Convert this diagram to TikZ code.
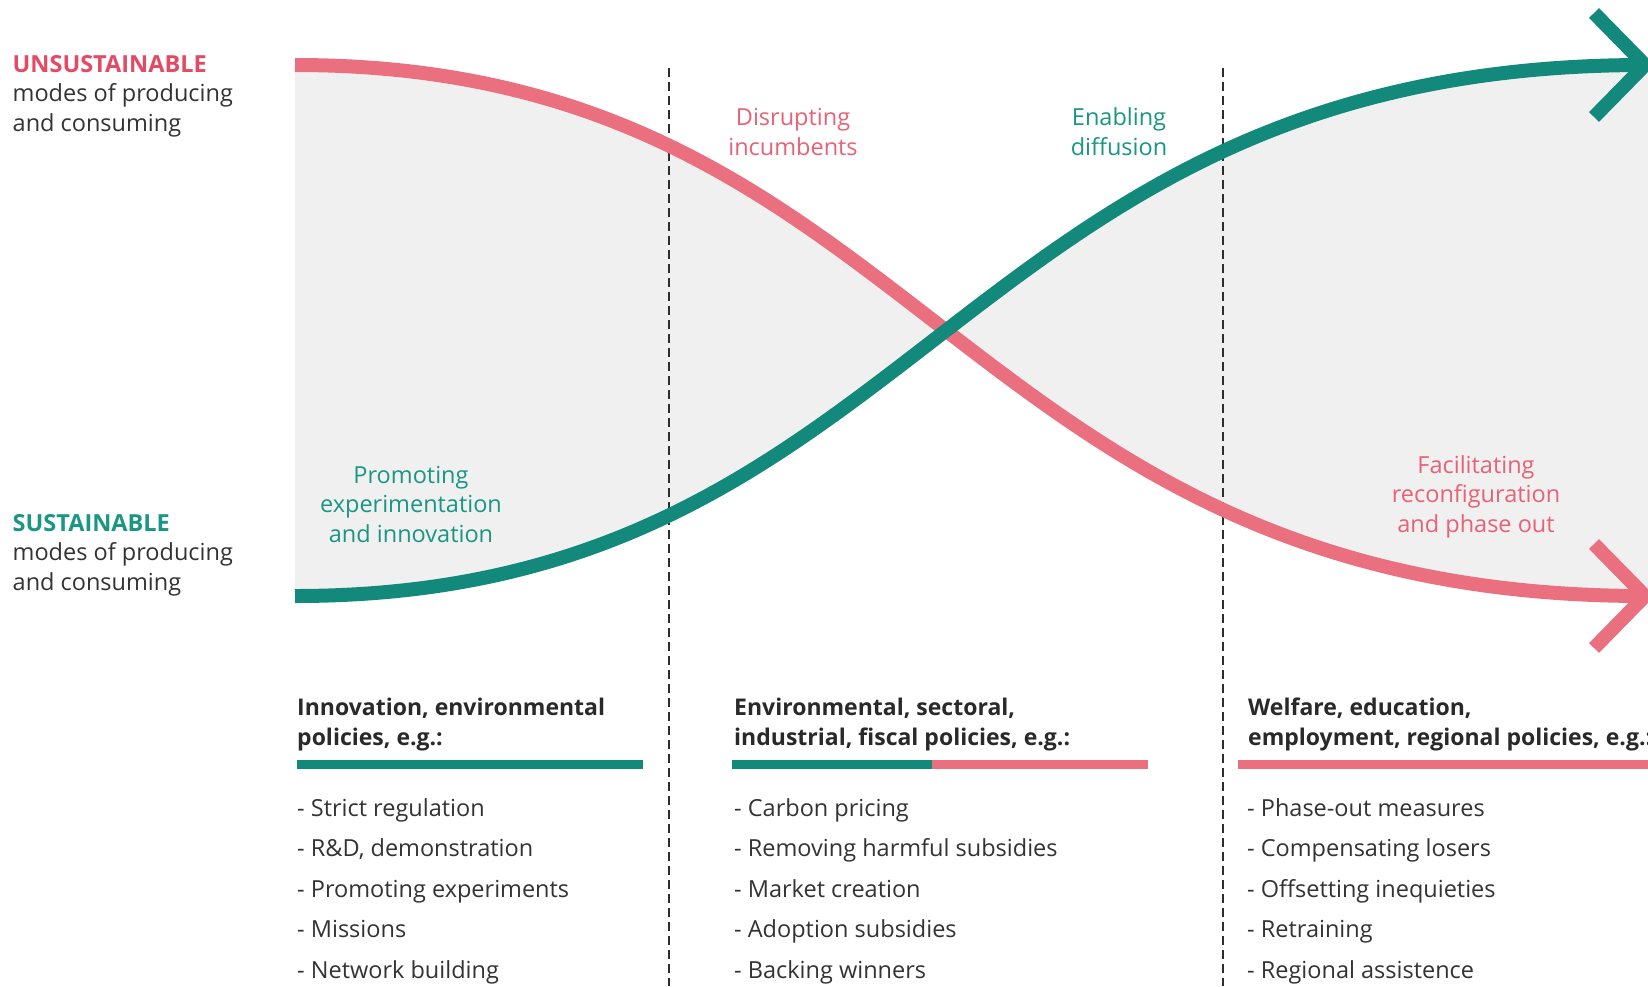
\documentclass[tikz,border=0pt]{standalone}
\usepackage{fontspec}
\setmainfont{Open Sans}
\definecolor{rosecurve}{RGB}{234,112,128}
\definecolor{rosetext}{RGB}{232,98,118}
\definecolor{rosehead}{RGB}{228,74,100}
\definecolor{tealcurve}{RGB}{18,137,122}
\definecolor{tealtext}{RGB}{26,150,132}
\definecolor{bandgrey}{RGB}{240,240,240}
\definecolor{inktext}{RGB}{51,51,51}
\begin{document}
\begin{tikzpicture}[x=1pt,y=-1pt,
  band/.style={fill=bandgrey},
  divider/.style={draw=inktext!90!black,line width=2pt,dash pattern=on 9pt off 5pt},
  roseline/.style={draw=rosecurve,line width=14pt,line cap=butt},
  tealline/.style={draw=tealcurve,line width=14pt,line cap=butt},
  chevron/.style={line width=14pt,line join=miter,line cap=butt},
  bar/.style={line width=9pt,line cap=butt},
  % multi-line nodes below are placed by the baseline of their last line
  curvelabel/.style={inner sep=0pt,align=center,anchor=base,
    font=\fontsize{23.5}{29.5}\selectfont},
  sidelabel/.style={inner sep=0pt,align=left,anchor=base west,text=inktext,
    font=\fontsize{23.5}{29.5}\selectfont},
  policyhead/.style={inner sep=0pt,align=left,anchor=base west,text=inktext!80!black,
    font=\fontsize{23}{30}\selectfont\bfseries},
  policylist/.style={inner sep=0pt,align=left,anchor=base west,text=inktext,
    font=\fontsize{23.5}{40.5}\selectfont}]
\useasboundingbox (0,0) rectangle (1648,986);

% end points of the two transition curves
\coordinate (roseStart) at (295,65);
\coordinate (roseEnd) at (1645,596);
\coordinate (tealStart) at (295,596);
\coordinate (tealEnd) at (1645,65);

% grey band between the curves
\fill[band] (roseStart) .. controls (924,65) and (952,596) .. (roseEnd)
  -- (1648,596) -- (1648,65) -- (tealEnd)
  .. controls (952,65) and (924,596) .. (tealStart) -- cycle;

% phase dividers
\coordinate (divAtop) at (668.5,68);
\coordinate (divAbot) at (668.5,986);
\coordinate (divBtop) at (1222.5,68);
\coordinate (divBbot) at (1222.5,986);
\draw[divider] (divAtop) -- (divAbot);
\draw[divider] (divBtop) -- (divBbot);

% unsustainable regime declining
\draw[roseline] (roseStart) .. controls (924,65) and (952,596) .. (roseEnd);
\coordinate (roseArmUp) at (1594,544);
\coordinate (roseArmDown) at (1594,648);
\draw[roseline,chevron] (roseArmUp) -- (roseEnd) -- (roseArmDown);

% sustainable niche rising
\draw[tealline] (tealStart) .. controls (924,596) and (952,65) .. (tealEnd);
\coordinate (tealArmUp) at (1594,13);
\coordinate (tealArmDown) at (1594,117);
\draw[tealline,chevron] (tealArmUp) -- (tealEnd) -- (tealArmDown);

% side labels
\node[sidelabel] (unsust) at (12.5,131)
  {{\color{rosehead}\bfseries UNSUSTAINABLE}\\modes of producing\\and consuming};
\node[sidelabel] (sust) at (12.5,590)
  {{\color{tealtext}\bfseries SUSTAINABLE}\\modes of producing\\and consuming};

% curve labels
\node[curvelabel,text=rosetext] (disrupt) at (793,155) {Disrupting\\incumbents};
\node[curvelabel,text=tealtext] (enable) at (1119,155) {Enabling\\diffusion};
\node[curvelabel,text=tealtext] (promote) at (411,542) {Promoting\\experimentation\\and innovation};
\node[curvelabel,text=rosetext] (facilitate) at (1476,532) {Facilitating\\reconfiguration\\and phase out};

% policy columns
\node[policyhead] (headA) at (297,745) {Innovation, environmental\\policies, e.g.:};
\node[policyhead] (headB) at (734,745) {Environmental, sectoral,\\industrial, fiscal policies, e.g.:};
\node[policyhead] (headC) at (1248,745) {Welfare, education,\\employment, regional policies, e.g.:};

\draw[bar,tealcurve] (297,764.5) -- (643,764.5);
\draw[bar,tealcurve] (732,764.5) -- (932,764.5);
\draw[bar,rosecurve] (932,764.5) -- (1148,764.5);
\draw[bar,rosecurve] (1238,764.5) -- (1648,764.5);

\node[policylist] (listA) at (297,978)
  {- Strict regulation\\- R\&D, demonstration\\- Promoting experiments\\- Missions\\- Network building};
\node[policylist] (listB) at (734,978)
  {- Carbon pricing\\- Removing harmful subsidies\\- Market creation\\- Adoption subsidies\\- Backing winners};
\node[policylist] (listC) at (1247,978)
  {- Phase-out measures\\- Compensating losers\\- Offsetting inequieties\\- Retraining\\- Regional assistence};
\end{tikzpicture}
\end{document}
